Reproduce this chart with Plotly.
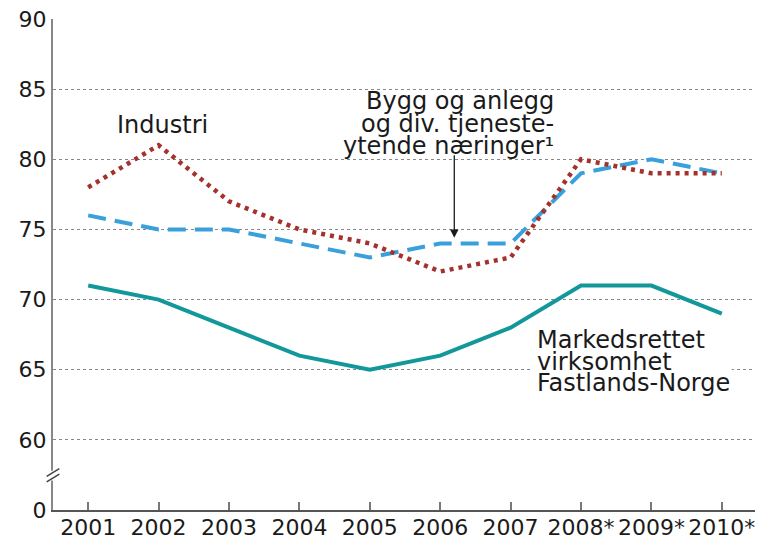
import plotly.graph_objects as go

years = ["2001", "2002", "2003", "2004", "2005", "2006", "2007", "2008*", "2009*", "2010*"]
industri = [78, 81, 77, 75, 74, 72, 73, 80, 79, 79]
bygg = [76, 75, 75, 74, 73, 74, 74, 79, 80, 79]
marked = [71, 70, 68, 66, 65, 66, 68, 71, 71, 69]
ytickvals = [55, 60, 65, 70, 75, 80, 85, 90]
yticktext = ["0", "60", "65", "70", "75", "80", "85", "90"]
bygg_label = ["Bygg og anlegg", "og div. tjeneste-", "ytende næringer¹"]
marked_label = ["Markedsrettet", "virksomhet", "Fastlands-Norge"]

xi = list(range(len(years)))
fig = go.Figure()
fig.add_trace(go.Scatter(x=xi, y=marked, mode="lines",
                         line=dict(color="#12979a", width=4)))
fig.add_trace(go.Scatter(x=xi, y=bygg, mode="lines",
                         line=dict(color="#3aa0db", width=4, dash="18px,9px")))
fig.add_trace(go.Scatter(x=xi, y=industri, mode="lines",
                         line=dict(color="#a4312b", width=4.5, dash="4px,5px")))

font = "DejaVu Sans, Liberation Sans, sans-serif"
# page body has an 8px default margin; figure is sized to fit the 763x540 window
fig.update_layout(
    width=755, height=532,
    margin=dict(l=45, r=6, t=11, b=30),
    paper_bgcolor="white", plot_bgcolor="white",
    showlegend=False,
    font=dict(family=font, size=22, color="#1a1a1a"),
    xaxis=dict(range=[-0.5, 9.5], tickvals=xi, ticktext=years, automargin=False,
               showgrid=False, zeroline=False, showline=True,
               linecolor="#555555", linewidth=2,
               ticks="inside", ticklen=8, tickwidth=2, tickcolor="#777777",
               ticklabeloverflow="allow", ticklabelstandoff=-3,
               tickfont=dict(size=22)),
    yaxis=dict(range=[55, 90], tickvals=ytickvals, ticktext=yticktext, automargin=False,
               showgrid=True, gridcolor="#888888", griddash="3px,3px", gridwidth=1,
               zeroline=False, showline=True, linecolor="#888888", linewidth=2,
               ticks="", ticklabeloverflow="allow",
               tickfont=dict(size=22)),
)

ann_font = dict(family=font, size=24, color="#1a1a1a")
fig.add_annotation(x=1.06, y=82.45, text="Industri", showarrow=False, font=ann_font)
for txt, yv in zip(bygg_label, [84.16, 82.52, 80.95]):
    fig.add_annotation(x=6.63, y=yv, text=txt, showarrow=False, font=ann_font,
                       xanchor="right", borderpad=0)
fig.add_annotation(x=5.2, y=74.4, ax=0, ay=-84, text="", showarrow=True,
                   arrowhead=2, arrowsize=1.3, arrowwidth=1.3, arrowcolor="#1a1a1a",
                   axref="pixel", ayref="pixel")
# white background behind the Markedsrettet label
fig.add_shape(type="rect", xref="x", yref="y", x0=6.3, x1=9.14, y0=64.6, y1=66.1,
              fillcolor="white", line=dict(width=0), layer="above")
for txt, yv in zip(marked_label, [67.12, 65.55, 64.06]):
    fig.add_annotation(x=6.36, y=yv, text=txt, showarrow=False, font=ann_font,
                       xanchor="left", borderpad=0)

# axis break marks
fig.add_shape(type="line", xref="paper", yref="y", x0=0, x1=0, y0=57.1, y1=57.8,
              line=dict(color="white", width=4))
for off in (0.0, 0.4):
    fig.add_shape(type="line", xref="paper", yref="y",
                  x0=-0.009, x1=0.009, y0=57.0 + off, y1=57.55 + off,
                  line=dict(color="#444444", width=1.5))

fig.write_html("out.html")
